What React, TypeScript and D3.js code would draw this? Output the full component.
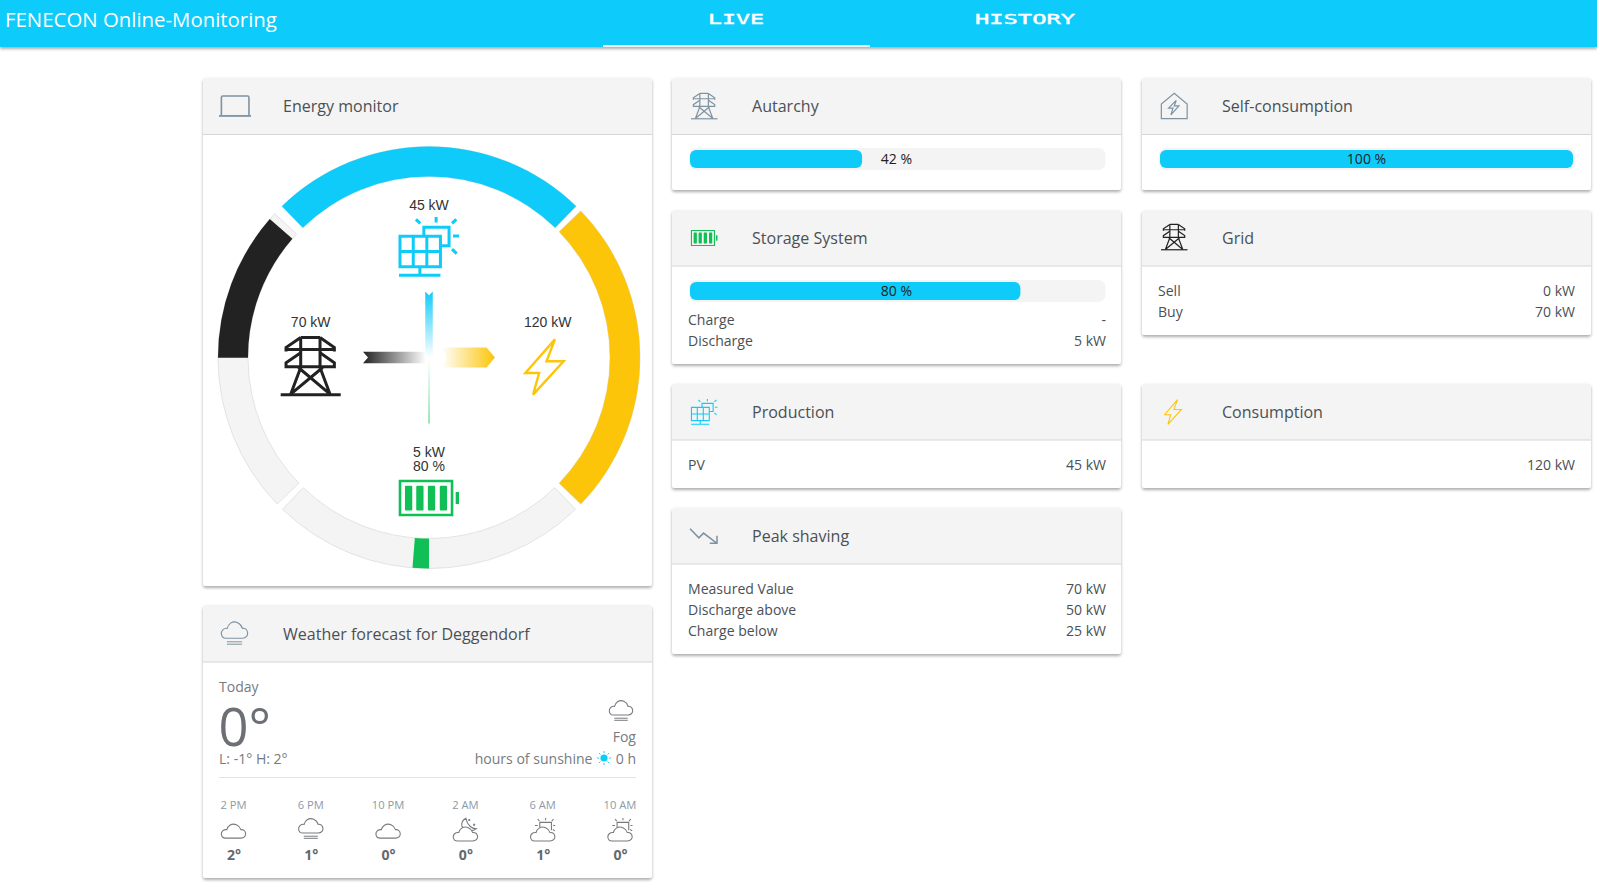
import { useEffect, useRef } from 'react';
import * as d3 from 'd3';

const W = 1597;
const H = 885;
const FONT = '"Open Sans", sans-serif';
const CYAN = '#0fcbfa';
const YELLOW = '#fcc509';
const GREEN = '#10bf55';
const DARK = '#222222';
const SLATE = '#7f92a1';
const TEXT = '#4b5055';

// energy monitor
const sectorNames = ['Production', 'Consumption', 'Storage', 'Grid'];
const sectorStart = [-44.2, 46, 136, 226];
const sectorEnd = [44.2, 134, 224, 313];
const sectorFillFrom = [0, 0, 0.5, 0.505];
const sectorFillTo = [1, 1, 0.551, 0.977];
const sectorColors = [CYAN, YELLOW, GREEN, DARK];
const flowKw = [45, 120, 5, 70];

// progress bars
const autarchyPct = 41.67;
const storagePct = 80;
const selfPct = 100;

// table rows
const storageLabels = ['Charge', 'Discharge'];
const storageValues = ['-', '5 kW'];
const gridLabels = ['Sell', 'Buy'];
const gridValues = ['0 kW', '70 kW'];
const productionLabels = ['PV'];
const productionValues = ['45 kW'];
const consumptionLabels = [''];
const consumptionValues = ['120 kW'];
const peakLabels = ['Measured Value', 'Discharge above', 'Charge below'];
const peakValues = ['70 kW', '50 kW', '25 kW'];

// weather
const forecastHours = ['2 PM', '6 PM', '10 PM', '2 AM', '6 AM', '10 AM'];
const forecastTemps = ['2°', '1°', '0°', '0°', '1°', '0°'];
const forecastIcons = ['cloud', 'fog', 'cloud', 'moon', 'sun', 'sun'];

type Sel = d3.Selection<any, any, any, any>;

const CLOUD = 'M13 46 H58 C68 46 73 38 72 32 C71 24 65 20 58 21 C54 8 38 0 26 8 C20 12 18 17 17 21 C7 20 0 27 1 35 C2 42 7 46 13 46 Z';

// put an icon drawn in its own box into a pixel box
const place = (sel: Sel, vb: number[], x: number, y: number, w: number, h: number) =>
  sel.append('g')
    .attr('transform', `translate(${x},${y}) scale(${w / vb[2]},${h / vb[3]}) translate(${-vb[0]},${-vb[1]})`);

const line = (g: Sel, d: string, color: string, sw: number, fill = 'none') =>
  g.append('path')
    .attr('d', d)
    .attr('fill', fill)
    .attr('stroke', color)
    .attr('stroke-width', sw)
    .attr('vector-effect', 'non-scaling-stroke');

const tower = (sel: Sel, x: number, y: number, w: number, color: string, sw: number) => {
  const g = place(sel, [32, 35, 180, 180], x, y, w, w);
  line(g, 'M32 210 H212', color, sw);
  line(g, 'M92 38 H150 M92 38 V128 M150 38 V128', color, sw);
  line(g, 'M92 38 L48 68 V80 M150 38 L193 68 V80 M48 74 H193', color, sw);
  line(g, 'M92 84 L48 114 V130 M150 84 L193 114 V130 M48 126 H193', color, sw);
  line(g, 'M92 128 L62 208 M150 128 L180 208 M85 128 L180 208 M158 128 L62 208', color, sw);
};

const solar = (sel: Sel, x: number, y: number, w: number, h: number, sw: number) => {
  const g = place(sel, [597, 435, 181, 177], x, y, w, h);
  line(g, 'M672 490 V465 H748 V520 H722', CYAN, sw);
  line(g, 'M600 492 H722 V582 H600 Z M640 492 V582 M681 492 V582 M600 537 H722', CYAN, sw);
  line(g, 'M660 582 V607 M597 607 H722', CYAN, sw);
  line(g, 'M709 435 V451 M648 442 L661 454 M770 442 L757 454 M760 491 H778 M757 530 L771 543', CYAN, sw);
};

const battery = (sel: Sel, x: number, y: number, w: number, h: number, sw: number) => {
  const g = place(sel, [597, 1213, 181, 105], x, y, w, h);
  line(g, 'M600 1216 H757 V1315 H600 Z', GREEN, sw);
  g.selectAll('rect.cell')
    .data([615, 649, 684, 720])
    .enter()
    .append('rect')
    .attr('class', 'cell')
    .attr('x', (d) => d)
    .attr('y', 1230)
    .attr('width', 22)
    .attr('height', 72)
    .attr('rx', 3)
    .attr('fill', GREEN);
  g.append('rect').attr('x', 768).attr('y', 1248).attr('width', 10).attr('height', 35).attr('fill', GREEN);
};

const bolt = (sel: Sel, x: number, y: number, w: number, h: number, sw: number) => {
  const g = place(sel, [973, 793, 122, 172], x, y, w, h);
  line(g, 'M1065 797 L977 897 H1018 L1000 961 L1091 862 H1040 Z', YELLOW, sw);
};

const laptop = (sel: Sel, x: number, y: number, w: number, h: number) => {
  const g = place(sel, [58, 75, 94, 63], x, y, w, h);
  line(g, 'M65 132 V82 Q65 78 69 78 H142 Q146 78 146 82 V132', SLATE, 1.6);
  line(g, 'M58 135 H152', SLATE, 1.8);
};

const house = (sel: Sel, x: number, y: number, w: number, h: number) => {
  const g = place(sel, [92, 70, 80, 77], x, y, w, h);
  line(g, 'M93 146 V103 L132 71 L171 103 V146 Z', SLATE, 1.2);
  line(g, 'M138 92 L115 115 H128 L122 135 L146 108 H132 Z', SLATE, 1.2);
};

const peakIcon = (sel: Sel, x: number, y: number, w: number, h: number) => {
  const g = place(sel, [90, 445, 85, 47], x, y, w, h);
  line(g, 'M90 447 L117 474 L131 460 L172 490 M172 468 V490 H150', SLATE, 1.5);
};

const cloudIcon = (sel: Sel, x: number, y: number, w: number, h: number, color: string, fog: boolean) => {
  const g = place(sel, [0, 0, 73, fog ? 63 : 47], x, y, w, h);
  line(g, CLOUD, color, 1.1);
  if (fog) line(g, 'M16 55 H57 M16 61 H57', color, 1);
};

const moonIcon = (sel: Sel, x: number, y: number, w: number, h: number, color: string) => {
  const g = place(sel, [0, 0, 73, 68], x, y, w, h);
  line(g, 'M38 1 C22 10 22 28 36 34 C46 38 60 38 68 32 C56 32 42 22 38 1 Z', color, 1.1);
  line(g, 'M48 3 L50 6 L48 9 L46 6 Z M62 17 L64 20 L62 23 L60 20 Z', color, 1, color);
  g.append('g').attr('transform', 'translate(0,22)').call((c: Sel) => line(c, CLOUD, color, 1.1, 'white'));
};

const sunIcon = (sel: Sel, x: number, y: number, w: number, h: number, color: string) => {
  const g = place(sel, [0, 0, 73, 68], x, y, w, h);
  line(g, 'M28 28 V13 H62 V36 M45 0 V7 M22 3 L27 9 M68 3 L63 9 M14 22 H22 M67 22 H73 M66 34 L72 38', color, 1.1);
  g.append('g').attr('transform', 'translate(0,22)').call((c: Sel) => line(c, CLOUD, color, 1.1, 'white'));
};

const App = () => {
  const svgRef = useRef(null);

  useEffect(() => {
    const svg = d3.select(svgRef.current);
    svg.selectAll('*').remove();

    const defs = svg.append('defs');
    const shadow = defs.append('filter')
      .attr('id', 'shadow')
      .attr('x', '-5%').attr('y', '-10%').attr('width', '110%').attr('height', '125%');
    shadow.append('feDropShadow')
      .attr('dx', 0).attr('dy', 2).attr('stdDeviation', 1.6)
      .attr('flood-color', '#000').attr('flood-opacity', 0.32);

    const label = (sel: Sel, str: string, x: number, y: number, size: number, color: string, anchor = 'start', family = FONT) =>
      sel.append('text')
        .attr('x', x).attr('y', y)
        .attr('font-family', family)
        .attr('font-size', size)
        .attr('fill', color)
        .attr('text-anchor', anchor)
        .text(str);

    // top bar
    svg.append('rect').attr('width', W).attr('height', 47).attr('fill', CYAN).attr('filter', 'url(#shadow)');
    label(svg, 'FENECON Online-Monitoring', 5, 27, 20.4, '#ffffff');
    label(svg, 'LIVE', 708, 24, 14, '#ffffff', 'start', '"DejaVu Sans Mono"')
      .attr('textLength', 56).attr('lengthAdjust', 'spacingAndGlyphs').attr('stroke', '#ffffff').attr('stroke-width', 0.4);
    label(svg, 'HISTORY', 975, 24, 14, '#ffffff', 'start', '"DejaVu Sans Mono"')
      .attr('textLength', 100).attr('lengthAdjust', 'spacingAndGlyphs').attr('stroke', '#ffffff').attr('stroke-width', 0.4);
    svg.append('rect').attr('x', 603).attr('y', 45).attr('width', 267).attr('height', 2).attr('fill', '#f1f1f1');

    // cards
    const card = (x: number, w: number, top: number, rule: number, bottom: number, title: string, base: number, titleX: number) => {
      svg.append('rect')
        .attr('x', x).attr('y', top).attr('width', w).attr('height', bottom - top).attr('rx', 3)
        .attr('fill', '#ffffff').attr('filter', 'url(#shadow)');
      svg.append('path')
        .attr('d', `M${x} ${rule} V${top + 3} Q${x} ${top} ${x + 3} ${top} H${x + w - 3} Q${x + w} ${top} ${x + w} ${top + 3} V${rule} Z`)
        .attr('fill', '#f4f4f4');
      svg.append('line')
        .attr('x1', x).attr('x2', x + w).attr('y1', rule).attr('y2', rule)
        .attr('stroke', '#d6d6d6');
      label(svg, title, titleX, base, 16.05, TEXT);
    };

    const col1 = 203;
    const col2 = 672;
    const col3 = 1142;
    const cardW = 449;

    card(col1, cardW, 77.5, 134.5, 586, 'Energy monitor', 112, 283);
    card(col1, cardW, 605, 662, 878, 'Weather forecast for Deggendorf', 640, 283);
    card(col2, cardW, 77.5, 134.5, 190, 'Autarchy', 112, 752);
    card(col2, cardW, 210, 266, 364, 'Storage System', 244, 752);
    card(col2, cardW, 383.5, 440, 488, 'Production', 418, 752);
    card(col2, cardW, 507.5, 564, 654, 'Peak shaving', 542, 752);
    card(col3, cardW, 77.5, 134.5, 190, 'Self-consumption', 112, 1222);
    card(col3, cardW, 210, 266, 335, 'Grid', 244, 1222);
    card(col3, cardW, 383.5, 440, 488, 'Consumption', 418, 1222);

    // header icons
    laptop(svg, 219, 95, 32, 22);
    cloudIcon(svg, 221, 620, 27, 25, SLATE, true);
    tower(svg, 691, 93, 26.5, SLATE, 1.2);
    battery(svg, 691, 230, 26.5, 16, 1.1);
    solar(svg, 691, 399, 26.5, 26, 1.1);
    peakIcon(svg, 690, 528, 28, 16);
    house(svg, 1161, 93, 26.5, 26);
    tower(svg, 1161, 224, 26.5, DARK, 1.2);
    bolt(svg, 1164, 399, 18, 26, 1.1);

    // progress bars
    const pct = d3.scaleLinear().domain([0, 100]).range([0, 413]);
    const bar = (x: number, y: number, value: number) => {
      svg.append('rect')
        .attr('x', x - 1).attr('y', y - 2).attr('width', 416.5).attr('height', 22).attr('rx', 7)
        .attr('fill', '#f4f4f4');
      svg.append('rect')
        .attr('x', x).attr('y', y).attr('width', pct(value)).attr('height', 18).attr('rx', 6)
        .attr('fill', CYAN);
      label(svg, `${Math.round(value)} %`, x + 206.5, y + 14, 14.05, '#222222', 'middle');
    };
    bar(690, 150, autarchyPct);
    bar(690, 282, storagePct);
    bar(1160, 150, selfPct);

    // label / value tables
    const rows = (names: string[], values: string[], left: number, right: number, first: number) => {
      const y = d3.scaleLinear().domain([0, 1]).range([first, first + 21]);
      names.forEach((n, i) => {
        label(svg, n, left, y(i), 14.05, TEXT);
        label(svg, values[i], right, y(i), 14.05, TEXT, 'end');
      });
    };
    rows(storageLabels, storageValues, 688, 1106, 325);
    rows(gridLabels, gridValues, 1158, 1575, 296);
    rows(productionLabels, productionValues, 688, 1106, 470);
    rows(consumptionLabels, consumptionValues, 1158, 1575, 470);
    rows(peakLabels, peakValues, 688, 1106, 594);

    // energy monitor gauge
    const cx = 429;
    const cy = 357.5;
    const rad = d3.scaleLinear().domain([0, 360]).range([0, 2 * Math.PI]);
    const arc = d3.arc().innerRadius(181).outerRadius(211);
    const gauge = svg.append('g').attr('transform', `translate(${cx},${cy})`);
    sectorNames.forEach((name, i) => {
      const angle = d3.scaleLinear().domain([0, 1]).range([rad(sectorStart[i]), rad(sectorEnd[i])]);
      gauge.append('path')
        .attr('d', arc({ startAngle: angle(0), endAngle: angle(1) } as any))
        .attr('fill', '#f4f4f4')
        .attr('stroke', '#dddddd')
        .attr('stroke-width', 0.8);
      gauge.append('path')
        .attr('class', name)
        .attr('d', arc({ startAngle: angle(sectorFillFrom[i]), endAngle: angle(sectorFillTo[i]) } as any))
        .attr('fill', sectorColors[i]);
    });

    // flow arrows, width follows the power
    const arrowW = d3.scaleLinear().domain([0, 120]).range([0, 20]);
    const arrow = (id: string, kw: number, color: string, rotate: number, from: number, to: number, inbound: boolean, head: number) => {
      const grad = defs.append('linearGradient').attr('id', id);
      grad.append('stop').attr('offset', 0).attr('stop-color', inbound ? color : '#ffffff');
      grad.append('stop').attr('offset', 1).attr('stop-color', inbound ? '#ffffff' : color);
      const h = arrowW(kw) / 2;
      const notch = Math.min(h, 5);
      const pts = [
        [from, -h], [to - head, -h], [to, 0], [to - head, h], [from, h], [from + notch, 0],
      ];
      gauge.append('polygon')
        .attr('transform', `rotate(${rotate})`)
        .attr('points', pts.map((p) => p.join(',')).join(' '))
        .attr('fill', `url(#${id})`);
    };
    arrow('flowPv', flowKw[0], CYAN, 90, -66, 0, true, 0);
    arrow('flowGrid', flowKw[3], DARK, 0, -66, -3, true, 0);
    arrow('flowLoad', flowKw[1], YELLOW, 0, 12.5, 66, false, 8.5);
    arrow('flowBat', flowKw[2], GREEN, 90, 0, 66, false, 0);

    const mono = '"Liberation Sans", Arial, sans-serif';
    label(svg, `${flowKw[0]} kW`, 429, 210, 14, '#333333', 'middle', mono);
    label(svg, `${flowKw[3]} kW`, 310.7, 326.5, 14, '#333333', 'middle', mono);
    label(svg, `${flowKw[1]} kW`, 547.7, 326.5, 14, '#333333', 'middle', mono);
    label(svg, `${flowKw[2]} kW`, 429, 457, 14, '#333333', 'middle', mono);
    label(svg, `${storagePct} %`, 429, 471, 14, '#333333', 'middle', mono);

    solar(svg, 399, 217, 60, 60, 3);
    tower(svg, 280.7, 336.5, 60, DARK, 3);
    bolt(svg, 524, 338, 41, 58, 2.4);
    battery(svg, 399, 480, 60, 36, 2.6);

    // weather
    const GREY = '#777b7f';
    label(svg, 'Today', 219, 691.5, 14.05, GREY);
    label(svg, '0°', 218.5, 745.5, 52.5, '#6c7074');
    label(svg, 'L: -1° H: 2°', 219, 763.5, 14.05, GREY);
    label(svg, 'Fog', 636, 742, 14.05, GREY, 'end');
    label(svg, 'hours of sunshine', 592.5, 763.5, 14.05, GREY, 'end');
    label(svg, '0 h', 636, 763.5, 14.05, GREY, 'end');
    cloudIcon(svg, 609, 699, 24, 22, GREY, true);

    const sun = svg.append('g').attr('transform', 'translate(604,758)');
    sun.append('circle').attr('r', 3.6).attr('fill', CYAN);
    d3.range(8).forEach((i) => {
      sun.append('line')
        .attr('transform', `rotate(${i * 45})`)
        .attr('x1', 5).attr('x2', 7)
        .attr('stroke', CYAN).attr('stroke-width', 0.9);
    });

    svg.append('line')
      .attr('x1', 219).attr('x2', 636).attr('y1', 777.5).attr('y2', 777.5)
      .attr('stroke', '#e2e2e2');

    const hourX = d3.scalePoint().domain(forecastHours).range([233.5, 620]);
    forecastHours.forEach((hour, i) => {
      const x = hourX(hour) as number;
      label(svg, hour, x, 808.5, 11.2, '#8b9aa8', 'middle');
      label(svg, forecastTemps[i], x + 0.5, 860, 14.05, '#63686c', 'middle').attr('font-weight', 700);
      const kind = forecastIcons[i];
      if (kind === 'cloud') cloudIcon(svg, x - 12.5, 822.5, 25, 16, GREY, false);
      if (kind === 'fog') cloudIcon(svg, x - 12.5, 817, 25, 22, GREY, true);
      if (kind === 'moon') moonIcon(svg, x - 12.5, 818, 25, 23, GREY);
      if (kind === 'sun') sunIcon(svg, x - 12.5, 818, 25, 23, GREY);
    });
  }, []);

  return (
    <svg ref={svgRef} width={W} height={H} style={{ position: 'absolute', left: 0, top: 0, background: '#ffffff' }}></svg>
  );
};

export default App;
